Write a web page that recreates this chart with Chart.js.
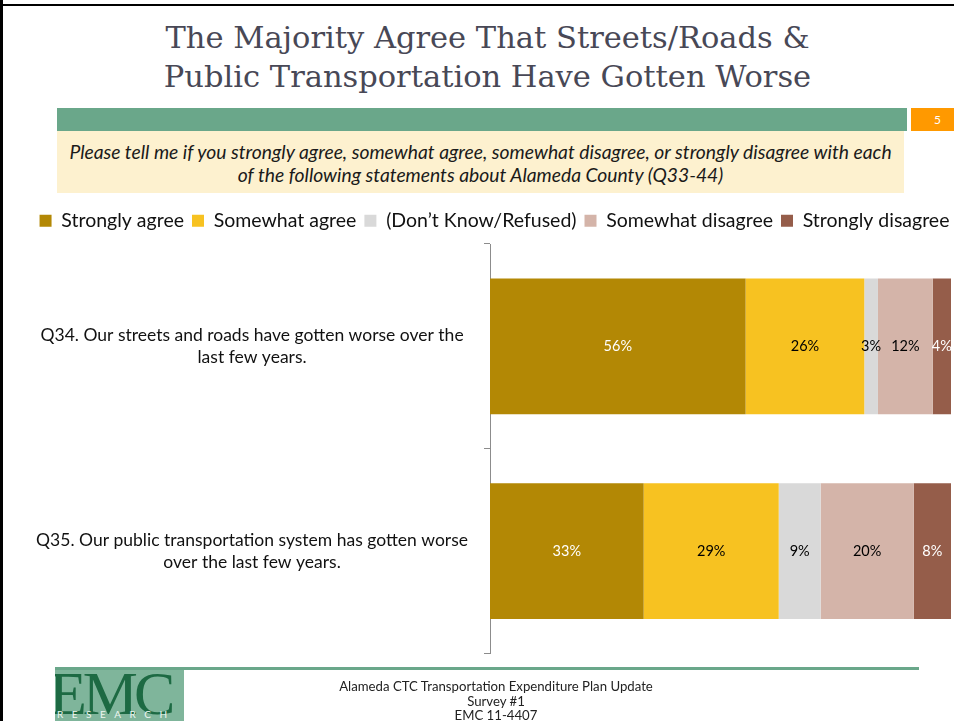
<!DOCTYPE html>
<html lang="en">
<head>
<meta charset="UTF-8">
<title>Streets/Roads &amp; Public Transportation Have Gotten Worse</title>
<script src="https://cdn.jsdelivr.net/npm/chart.js"></script>
<style>
    html, body {
        margin: 0;
        padding: 0;
        width: 954px;
        height: 721px;
        overflow: hidden;
        background: #fff;
    }
    .slide {
        position: relative;
        width: 954px;
        height: 721px;
        overflow: hidden;
        font-family: Lato, "Open Sans", sans-serif;
        color: #111;
    }
    .frame-left { position: absolute; left: 0; top: 0; width: 3px; height: 721px; background: #000; z-index: 2; }
    .frame-top { position: absolute; left: 0; top: 4px; width: 954px; height: 2px; background: #000; }
    .title {
        position: absolute;
        left: 0; top: 18px; width: 975px;
        text-align: center;
        font-family: "DejaVu Serif", serif;
        font-size: 30.5px;
        line-height: 39px;
        color: #484856;
    }
    .greenbar { position: absolute; left: 57px; top: 108px; width: 850px; height: 23px; background: #6aa78a; }
    .pagenum {
        position: absolute; left: 911px; top: 108px; width: 55px; height: 23px;
        background: #ff9900; color: #fff; font-size: 12px; line-height: 23px;
        text-indent: 23px;
    }
    .question {
        position: absolute; left: 57px; top: 131px; width: 847px; height: 62px;
        background: #fdf1cf;
        box-sizing: border-box;
        padding-top: 9px;
        text-align: center;
        font-style: italic;
        font-size: 19.3px;
        line-height: 23px;
        color: #1a1a1a;
    }
    .chart-box { position: absolute; left: 0; top: 200px; width: 1000px; height: 492px; }
    .footline { position: absolute; left: 55px; top: 667px; width: 864px; height: 3px; background: #6aa78a; }
    .logo {
        position: absolute; left: 55px; top: 670px; width: 129px; height: 51px;
        background: #7fb59b; overflow: hidden;
    }
    .logo .emc {
        position: absolute; left: -6px; top: -8px;
        font-family: "Liberation Serif", serif; font-size: 62px; line-height: 62px;
        color: #1d6a43; letter-spacing: -4px;
    }
    .logo .res {
        position: absolute; left: 2px; top: 38px;
        font-size: 10px; letter-spacing: 8.5px; color: #eef6f1;
    }
    .footer {
        position: absolute; left: 296px; top: 679px; width: 400px;
        text-align: center; font-size: 13.2px; line-height: 14.5px; color: #222;
    }
</style>
</head>
<body>
<div class="slide">
    <div class="frame-left"></div>
    <div class="frame-top"></div>
    <div class="title">The Majority Agree That Streets/Roads &amp;<br>Public Transportation Have Gotten Worse</div>
    <div class="greenbar"></div>
    <div class="pagenum">5</div>
    <div class="question">Please tell me if you strongly agree, somewhat agree, somewhat disagree, or strongly disagree with each<br>of the following statements about Alameda County (Q33-44)</div>
    <div class="chart-box"><canvas id="chart"></canvas></div>
    <div class="footline"></div>
    <div class="logo"><span class="emc">EMC</span><span class="res">RESEARCH</span></div>
    <div class="footer">Alameda CTC Transportation Expenditure Plan Update<br>Survey #1<br>EMC 11-4407</div>
</div>

<script>
    const questions = [
        ['Q34. Our streets and roads have gotten worse over the', 'last few years.'],
        ['Q35. Our public transportation system has gotten worse', 'over the last few years.']
    ];
    const seriesNames = ['Strongly agree', 'Somewhat agree', '(Don\u2019t Know/Refused)', 'Somewhat disagree', 'Strongly disagree'];
    const stronglyAgree = [56, 33];
    const somewhatAgree = [26, 29];
    const dontKnow = [3, 9];
    const somewhatDisagree = [12, 20];
    const stronglyDisagree = [4, 8];
    const seriesColors = ['#b38805', '#f7c221', '#d9d9d9', '#d4b4a9', '#955d4a'];
    const labelColors = ['#ffffff', '#000000', '#000000', '#000000', '#ffffff'];

    const raw = [stronglyAgree, somewhatAgree, dontKnow, somewhatDisagree, stronglyDisagree];
    // 100% stacked: each bar fills the whole width
    const totals = questions.map((q, i) => raw.reduce((s, arr) => s + arr[i], 0));

    const datasets = raw.map((arr, k) => ({
        label: seriesNames[k],
        data: arr.map((v, i) => v / totals[i] * 100),
        shown: arr,
        backgroundColor: seriesColors[k],
        borderWidth: 0,
        barPercentage: 0.663,
        categoryPercentage: 1.0
    }));

    // fixed legend height, and legend nudged like the slide
    const legendPlace = {
        id: 'legendPlace',
        beforeInit(chart) {
            const fit = chart.legend.fit;
            chart.legend.fit = function () {
                fit.call(this);
                this.height = 44;
            };
        },
        afterLayout(chart) {
            chart.legend.left += 19;
            chart.legend.right += 19;
            chart.legend.top += 3;
            chart.legend.bottom += 3;
        }
    };

    const valueLabels = {
        id: 'valueLabels',
        afterDatasetsDraw(chart) {
            const ctx = chart.ctx;
            ctx.save();
            ctx.font = '14.5px Lato, sans-serif';
            ctx.textAlign = 'center';
            ctx.textBaseline = 'middle';
            chart.data.datasets.forEach((ds, k) => {
                chart.getDatasetMeta(k).data.forEach((bar, i) => {
                    const p = bar.getCenterPoint();
                    ctx.fillStyle = labelColors[k];
                    ctx.fillText(ds.shown[i] + '%', p.x, p.y);
                });
            });
            ctx.restore();
        }
    };

    Chart.defaults.font.family = 'Lato, sans-serif';
    Chart.defaults.color = '#111';

    new Chart(document.getElementById('chart'), {
        type: 'bar',
        data: { labels: questions, datasets: datasets },
        options: {
            indexAxis: 'y',
            responsive: true,
            maintainAspectRatio: false,
            animation: false,
            layout: { padding: { left: 0, top: 0, bottom: 0, right: 49 } },
            scales: {
                x: { stacked: true, min: 0, max: 100, display: false },
                y: {
                    stacked: true,
                    afterFit(scale) { scale.width = 490; },
                    border: { color: '#8c8c8c', width: 1 },
                    grid: { drawOnChartArea: false, tickLength: 6, color: '#8c8c8c' },
                    ticks: {
                        crossAlign: 'center',
                        padding: 16,
                        color: '#111',
                        font: { size: 17.5, lineHeight: 1.28 }
                    }
                }
            },
            plugins: {
                legend: {
                    position: 'top',
                    labels: {
                        boxWidth: 12,
                        boxHeight: 12,
                        padding: 8,
                        color: '#111',
                        font: { size: 19.5 }
                    }
                },
                tooltip: { enabled: false }
            }
        },
        plugins: [legendPlace, valueLabels]
    });
</script>
</body>
</html>
